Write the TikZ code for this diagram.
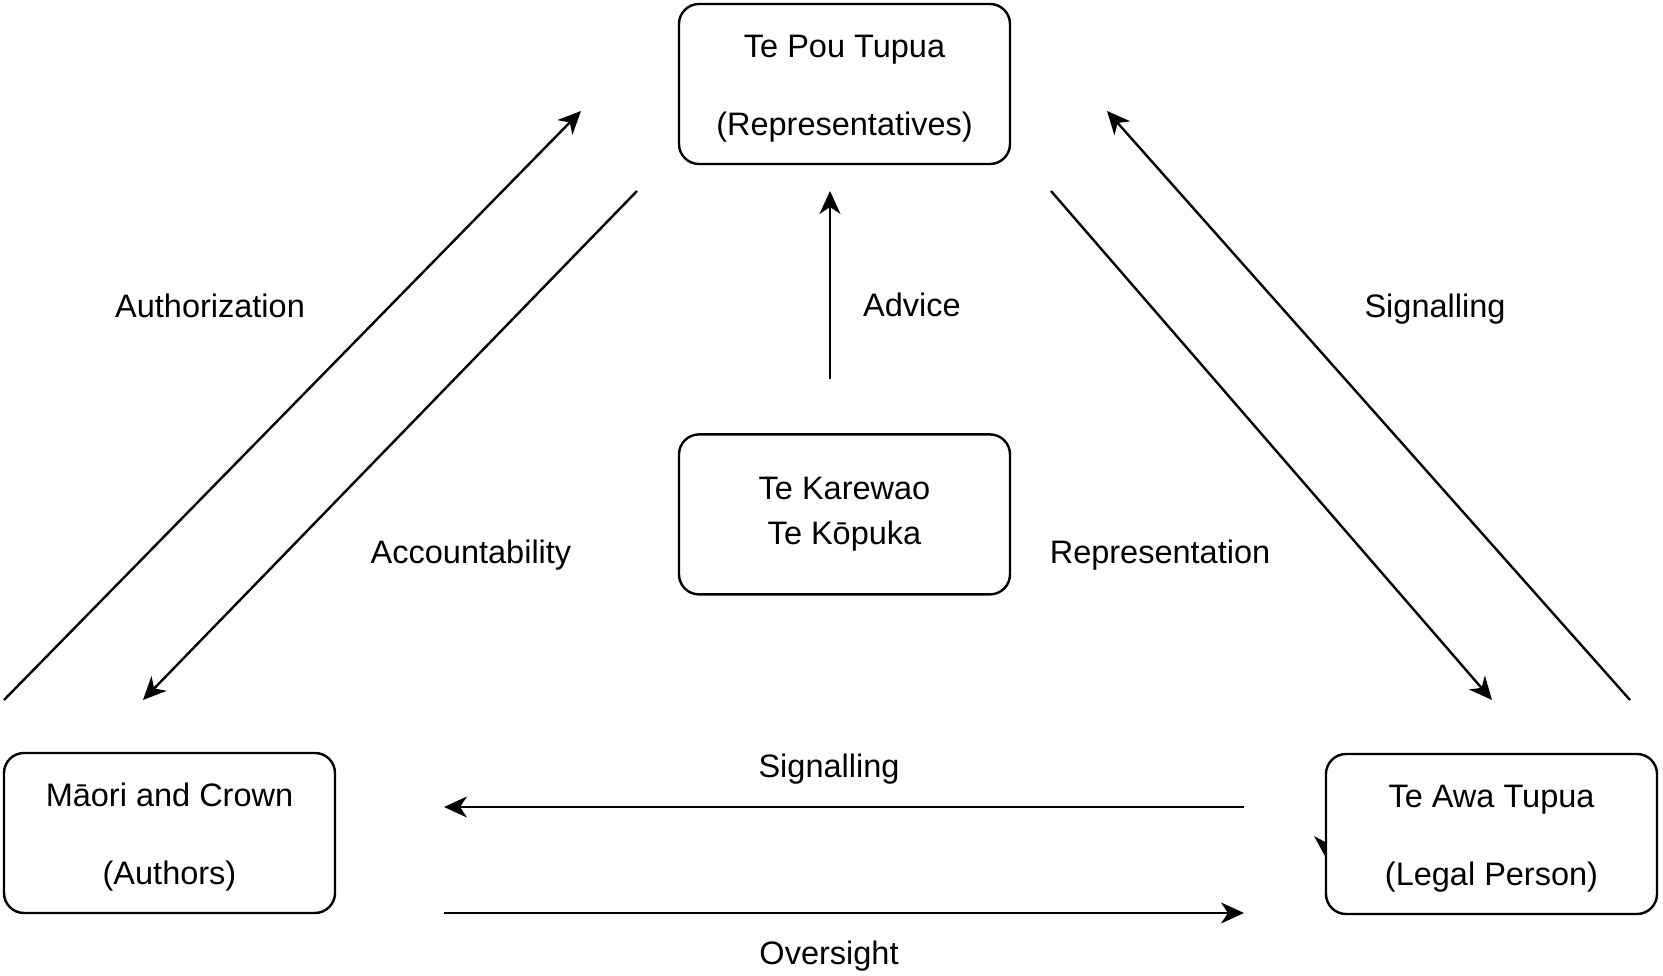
\documentclass[tikz,border=0pt]{standalone}
\usepackage{fontspec}
\setmainfont{Liberation Sans}
\usepackage{tikz}
\usetikzlibrary{arrows.meta,positioning}

\begin{document}
\begin{tikzpicture}[
  x=1pt, y=1pt,
  node distance=10mm,
  party/.style={rectangle, rounded corners=20pt, draw, line width=2.4pt,
                minimum width=331pt, minimum height=160pt, align=center,
                font=\fontsize{32.5}{39}\selectfont},
  lbl/.style={font=\fontsize{32.5}{39}\selectfont},
  arr/.style={-{Stealth[length=23pt,width=21pt,inset=7pt]}, line width=2.4pt},
]
\useasboundingbox (0,0) rectangle (1663,975);

\node[party] (pou) at (844.5,891) {\rule{0pt}{31pt}Te Pou Tupua\\[39pt](Representatives)};
\node[party, below=268pt of pou] (kar) {Te Karewao\\[6pt]Te Kōpuka};
\node[party] (maori) at (169.5,142) {\rule{0pt}{31pt}Māori and Crown\\[39pt](Authors)};
\node[party] (awa) at (1491.5,141) {\rule{0pt}{31pt}Te Awa Tupua\\[39pt](Legal Person)};

% arrow ends
\coordinate (authA) at (4,275);    \coordinate (authB) at (581,864);
\coordinate (accA) at (637,784);   \coordinate (accB) at (143,275);
\coordinate (advA) at (830,596);   \coordinate (advB) at (830,784);
\coordinate (repA) at (1051,784);  \coordinate (repB) at (1492,275);
\coordinate (sigA) at (1630,275);  \coordinate (sigB) at (1107,864);
\coordinate (sbA) at (1244,168);   \coordinate (sbB) at (444,168);
\coordinate (ovA) at (444,62);     \coordinate (ovB) at (1244,62);

\draw[arr] (authA) -- (authB);
\draw[arr] (accA) -- (accB);
\draw[arr] (advA) -- (advB);
\draw[arr] (repA) -- (repB);
\draw[arr] (sigA) -- (sigB);
\draw[arr] (sbA) -- (sbB);
\draw[arr] (ovA) -- (ovB);

\node[lbl] (lauth) at (210,669) {Authorization};
\node[lbl] (lacc) at (471,420) {Accountability};
\node[lbl] (ladv) at (912,670) {Advice};
\node[lbl] (lsig) at (1435,666) {Signalling};
\node[lbl] (lrep) at (1160,420) {Representation};
\node[lbl] (lsb) at (829,206) {Signalling};
\node[lbl] (lov) at (829,19) {Oversight};

% stray tip on the left side of Te Awa Tupua
\fill (1314,139) -- (1327,132) -- (1326,117) -- cycle;
\end{tikzpicture}
\end{document}
